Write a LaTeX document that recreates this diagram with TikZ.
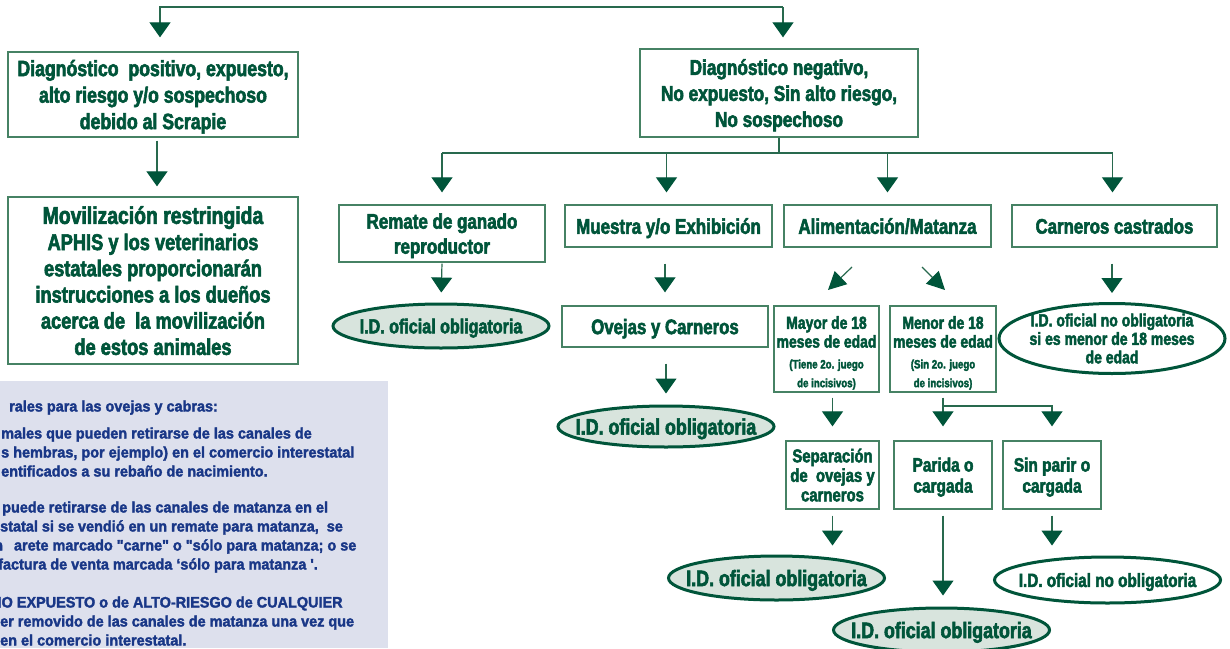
\documentclass[tikz,border=0pt]{standalone}
\usepackage{fontspec}
\setmainfont{Liberation Sans}
\newfontfamily\gfont{Liberation Sans}[UprightFont=* Bold, BoldFont=* Bold, FakeStretch=0.8, FakeBold=2.6]
\newfontfamily\bfont{Liberation Sans}[UprightFont=* Bold, BoldFont=* Bold, FakeStretch=0.95, FakeBold=2]
\usetikzlibrary{arrows.meta,shapes.geometric}
\definecolor{dg}{RGB}{0,85,58}
\definecolor{lc}{RGB}{40,105,78}
\definecolor{bc}{RGB}{70,130,100}
\definecolor{ef}{RGB}{216,228,221}
\definecolor{pf}{RGB}{221,224,237}
\definecolor{bt}{RGB}{25,55,135}
\newcommand{\fs}[2]{\fontsize{#1}{#2}\selectfont}
\begin{document}
\begin{tikzpicture}[x=1pt,y=-1pt,
 box/.style={draw=bc, line width=1.3pt, fill=white, text=dg, align=center, inner sep=0pt, text depth=0pt},
 ell/.style={ellipse, draw=dg, line width=3pt, fill=ef, text=dg, align=center, inner sep=-20pt, text depth=0pt},
 ln/.style={draw=lc, line width=1.2pt},
 arr/.style={ln, -{Triangle[width=21pt,length=15pt,color=dg]}},
 darr/.style={ln, -{Triangle[width=18pt,length=18pt,color=dg]}},
 btxt/.style={anchor=base west, inner sep=0pt, text=bt, font=\bfont\fs{15.2}{17}},
]
\useasboundingbox (0,0) rectangle (1230,648);
\clip (0,0) rectangle (1230,648);
\fill[white] (0,0) rectangle (1230,648);

% ---- left info panel
\fill[pf] (0,381) rectangle (388,648);
\node[btxt] (b1) at (9,411.5) {rales para las ovejas y cabras:};
\node[btxt] (b2) at (1,438.5) {males que pueden retirarse de las canales de};
\node[btxt] (b3) at (1,457.5) {s hembras, por ejemplo) en el comercio interestatal};
\node[btxt] (b4) at (1,476.5) {entificados a su rebaño de nacimiento.};
\node[btxt] (b5) at (2,512.5) {puede retirarse de las canales de matanza en el};
\node[btxt] (b6) at (0,531.5) {statal si se vendió en un remate para matanza,\ \ se};
\node[btxt] (b7) at (-6,550.5) {n\kern7pt\ arete marcado "carne" o "sólo para matanza; o se};
\node[btxt] (b8) at (-2,569.5) {factura de venta marcada ‘sólo para matanza '.};
\node[btxt] (b9) at (-9,607.5) {NO EXPUESTO o de ALTO-RIESGO de CUALQUIER};
\node[btxt] (b10) at (0,626.5) {er removido de las canales de matanza una vez que};
\node[btxt] (b11) at (0,645.5) {en el comercio interestatal.};

% ---- boxes
\node[box, minimum width=290pt, minimum height=85pt, font=\gfont\fs{22.1}{26.5}] (P) at (153,94.5)
  {Diagnóstico\ \ positivo, expuesto,\\alto riesgo y/o sospechoso\\debido al Scrapie};
\node[box, minimum width=290pt, minimum height=167pt, font=\gfont\fs{22.8}{26.2}] (M) at (153,280.5)
  {{\fs{24.2}{26.2}Movilización restringida}\\APHIS y los veterinarios\\estatales proporcionarán\\instrucciones a los dueños\\acerca de\ \ la movilización\\de estos animales};
\node[box, minimum width=278pt, minimum height=88pt, font=\gfont\fs{21.5}{26}] (N) at (779,93)
  {Diagnóstico negativo,\\No expuesto, Sin alto riesgo,\\No sospechoso};

\node[box, minimum width=206pt, minimum height=57pt, font=\gfont\fs{21.2}{25}] (R) at (442,233.5)
  {Remate de ganado\\reproductor};
\node[box, minimum width=207pt, minimum height=42pt, font=\gfont\fs{21.2}{24}] (Mu) at (668.5,226)
  {Muestra y/o Exhibición};
\node[box, minimum width=207pt, minimum height=42pt, font=\gfont\fs{21.2}{24}] (A) at (887.5,226)
  {Alimentación/Matanza};
\node[box, minimum width=205pt, minimum height=42pt, font=\gfont\fs{21}{24}] (C) at (1114.5,226)
  {Carneros castrados};
\node[box, minimum width=206pt, minimum height=41pt, font=\gfont\fs{21}{24}] (O) at (665,326.5)
  {Ovejas y Carneros};

\node[box, minimum width=105pt, minimum height=86pt, font=\gfont\fs{17.4}{18.8}] (My) at (826.5,349)
  {\rule{0pt}{18pt}Mayor de 18\\meses de edad\\[2pt]{\fs{12.1}{14}(Tiene 2o. juego}\\{\fs{12.1}{14}de incisivos)}};
\node[box, minimum width=106pt, minimum height=86pt, font=\gfont\fs{17.4}{18.8}] (Mn) at (943,349)
  {\rule{0pt}{18pt}Menor de 18\\meses de edad\\[2pt]{\fs{12.1}{14}(Sin 2o. juego}\\{\fs{12.1}{14}de incisivos)}};

\node[box, minimum width=93pt, minimum height=68pt, font=\gfont\fs{18.6}{19.5}] (S) at (832.5,475)
  {Separación\\de\ \ ovejas y\\carneros};
\node[box, minimum width=98pt, minimum height=68pt, font=\gfont\fs{19.3}{21}] (Pa) at (943,475)
  {Parida o\\cargada};
\node[box, minimum width=98pt, minimum height=68pt, font=\gfont\fs{19.3}{21}] (Sp) at (1052,475)
  {Sin parir o\\cargada};

% ---- ellipses
\node[ell, minimum width=216pt, minimum height=44pt, font=\gfont\fs{20.1}{22}] (E1) at (441,326)
  {I.D. oficial obligatoria};
\node[ell, minimum width=216pt, minimum height=41pt, font=\gfont\fs{22.3}{24}] (E2) at (666,426.5)
  {I.D. oficial obligatoria};
\node[ell, fill=white, minimum width=226pt, minimum height=70pt, font=\gfont\fs{17.5}{18.5}] (E3) at (1112,338.5)
  {I.D. oficial no obligatoria\\si es menor de 18 meses\\de edad};
\node[ell, minimum width=216pt, minimum height=44pt, font=\gfont\fs{22.3}{24}] (E4) at (776.5,578)
  {I.D. oficial obligatoria};
\node[ell, minimum width=216pt, minimum height=44pt, font=\gfont\fs{22.3}{24}] (E5) at (941.5,630)
  {I.D. oficial obligatoria};
\node[ell, fill=white, minimum width=226pt, minimum height=46pt, font=\gfont\fs{19.1}{21}] (E6) at (1107.5,580)
  {I.D. oficial no obligatoria};

% ---- connectors
\coordinate (tl) at (160,7);
\coordinate (tr) at (783,7);
\draw[arr, shorten >=14pt] (tr) -- (tl) -- (tl |- P.north);
\draw[arr, shorten >=11pt] (tr) -- (tr |- N.north);

\draw[arr, shorten <=3pt, shorten >=10pt] ([xshift=4pt]P.south) -- ([xshift=4pt]M.north);

\coordinate (bus) at (779,153);
\draw[ln] (N.south) -- (bus);
\draw[ln] (R.north |- bus) -- ([xshift=-2pt]C.north |- bus);
\draw[arr, shorten >=12pt] (R.north |- bus) -- (R.north);
\draw[arr, shorten >=12pt] ([xshift=-2pt]Mu.north |- bus) -- ([xshift=-2pt]Mu.north);
\draw[arr, shorten >=12pt] (A.north |- bus) -- (A.north);
\draw[arr, shorten >=12pt] ([xshift=-2pt]C.north |- bus) -- ([xshift=-2pt]C.north);

\draw[arr, shorten <=1pt, shorten >=10pt] (R.south) -- (E1.north);
\draw[arr, shorten <=16pt, shorten >=13pt] (O.north |- Mu.south) -- (O.north);
\draw[arr, shorten <=16pt, shorten >=11pt] (O.south -| E2.north) -- (E2.north);
\draw[arr, shorten <=16pt, shorten >=9pt] (E3.north |- C.south) -- (E3.north);

\coordinate (d1s) at (852,267);
\coordinate (d1e) at (828,290);
\coordinate (d2s) at (922,267);
\coordinate (d2e) at (945,290);
\draw[darr] (d1s) -- (d1e);
\draw[darr] (d2s) -- (d2e);

\draw[arr, shorten <=5pt, shorten >=14pt] (S.north |- My.south) -- (S.north);
\coordinate (fork) at (943,406);
\draw[arr, shorten <=5pt, shorten >=14pt] (Mn.south) -- (Pa.north);
\draw[arr, shorten >=14pt] (fork) -| (Sp.north);

\draw[arr, shorten <=6pt, shorten >=9pt] (S.south) -- (S.south |- E4.north);
\draw[arr, shorten <=6pt, shorten >=11pt] (Pa.south) -- (Pa.south |- E5.north);
\draw[arr, shorten <=6pt, shorten >=10pt] (Sp.south) -- (Sp.south |- E6.north);
\end{tikzpicture}
\end{document}
